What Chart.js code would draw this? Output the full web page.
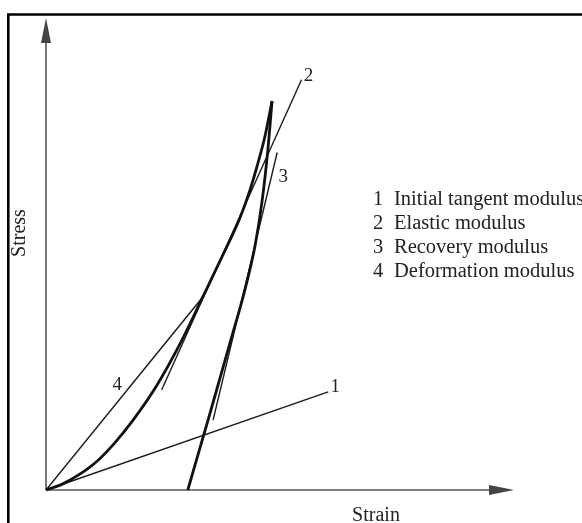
<!DOCTYPE html>
<html>
<head>
<meta charset="utf-8">
<script src="https://cdn.jsdelivr.net/npm/chart.js@4.4.1/dist/chart.umd.min.js"></script>
<style>
  html, body { margin: 0; padding: 0; background: #fff; overflow: hidden; }
  #chart { display: block; }
</style>
</head>
<body>
<canvas id="chart" width="582" height="523"></canvas>
<script>
// loading branch of the stress-strain curve (strain, stress)
let loadStrain = [0, 0.36, 0.73, 1.09, 1.47, 1.86, 2.37, 2.86, 3.35, 3.76, 4.15, 4.36, 4.53, 4.68, 4.83];
let loadStress = [0, 0.13, 0.34, 0.61, 1.0, 1.48, 2.22, 3.09, 4.09, 4.94, 5.78, 6.36, 6.93, 7.5, 8.24];

// unloading branch, from residual strain up to the peak
let unloadStrain = [3.03, 3.5, 3.95, 4.25, 4.47, 4.62, 4.74, 4.83];
let unloadStress = [0, 1.61, 3.18, 4.24, 5.19, 6.14, 7.2, 8.24];

// modulus lines: start and end points
let line1Strain = [0, 6.03];
let line1Stress = [0, 2.08];
let line2Strain = [2.47, 5.46];
let line2Stress = [2.12, 8.69];
let line3Strain = [3.57, 4.94];
let line3Stress = [1.48, 7.15];
let line4Strain = [0, 3.35];
let line4Stress = [0, 4.09];

let lineNames = ["1", "2", "3", "4"];
let legendItems = [
  "Initial tangent modulus",
  "Elastic modulus",
  "Recovery modulus",
  "Deformation modulus",
];

let xTitle = "Strain";
let yTitle = "Stress";

function toPoints(xs, ys) {
  return xs.map((x, i) => ({ x: x, y: ys[i] }));
}

let serif = "'Liberation Serif', 'Times New Roman', serif";

function thinLine(xs, ys) {
  return {
    data: toPoints(xs, ys),
    showLine: true,
    borderColor: "#1a1a1a",
    borderWidth: 1.4,
    pointRadius: 0,
    tension: 0,
    clip: false,
  };
}

function thickCurve(xs, ys) {
  return {
    data: toPoints(xs, ys),
    showLine: true,
    borderColor: "#111",
    borderWidth: 2.8,
    pointRadius: 0,
    cubicInterpolationMode: "monotone",
    clip: false,
  };
}

// frame, axes with arrowheads, titles and the numbered notes
let decor = {
  id: "decor",
  beforeDatasetsDraw(chart) {
    let ctx = chart.ctx;
    let xs = chart.scales.x;
    let ys = chart.scales.y;
    let x0 = xs.getPixelForValue(0);
    let y0 = ys.getPixelForValue(0);
    let xEnd = xs.getPixelForValue(10);
    let yEnd = ys.getPixelForValue(10);

    ctx.save();
    // outer frame
    ctx.strokeStyle = "#000";
    ctx.lineWidth = 2.6;
    ctx.beginPath();
    ctx.moveTo(8.3, chart.height + 5);
    ctx.lineTo(8.3, 14.5);
    ctx.lineTo(chart.width + 5, 14.5);
    ctx.stroke();

    // axes
    ctx.strokeStyle = "#555";
    ctx.fillStyle = "#444";
    ctx.lineWidth = 1.6;
    ctx.beginPath();
    ctx.moveTo(x0, y0);
    ctx.lineTo(x0, yEnd + 20);
    ctx.moveTo(x0, y0);
    ctx.lineTo(xEnd - 20, y0);
    ctx.stroke();

    ctx.beginPath();
    ctx.moveTo(x0, yEnd);
    ctx.lineTo(x0 - 5, yEnd + 25);
    ctx.lineTo(x0 + 5, yEnd + 25);
    ctx.closePath();
    ctx.fill();

    ctx.beginPath();
    ctx.moveTo(xEnd, y0);
    ctx.lineTo(xEnd - 25, y0 - 5);
    ctx.lineTo(xEnd - 25, y0 + 5);
    ctx.closePath();
    ctx.fill();

    // axis titles
    ctx.fillStyle = "#222";
    ctx.font = "20px " + serif;
    ctx.textAlign = "center";
    ctx.textBaseline = "alphabetic";
    ctx.fillText(xTitle, 376, 521);
    ctx.save();
    ctx.translate(25, 233);
    ctx.rotate(-Math.PI / 2);
    ctx.fillText(yTitle, 0, 0);
    ctx.restore();

    // legend text on the right
    ctx.font = "20.5px " + serif;
    ctx.textAlign = "left";
    for (let i = 0; i < legendItems.length; i++) {
      let base = 205 + i * 24;
      ctx.fillText(lineNames[i], 373, base);
      ctx.fillText(legendItems[i], 394, base);
    }
    ctx.restore();
  },
  afterDatasetsDraw(chart) {
    let ctx = chart.ctx;
    let xs = chart.scales.x;
    let ys = chart.scales.y;
    let px = (v) => xs.getPixelForValue(v);
    let py = (v) => ys.getPixelForValue(v);

    ctx.save();
    ctx.fillStyle = "#222";
    ctx.font = "19px " + serif;
    ctx.textAlign = "center";
    ctx.textBaseline = "middle";
    // numbers placed next to the end of each modulus line
    ctx.fillText(lineNames[0], px(line1Strain[1]) + 7, py(line1Stress[1]) - 5);
    ctx.fillText(lineNames[1], px(line2Strain[1]) + 7, py(line2Stress[1]) - 4);
    ctx.fillText(lineNames[2], px(line3Strain[1]) + 6, py(line3Stress[1]) + 24);
    let mid = 0.55;
    let lx = px(line4Strain[0] + (line4Strain[1] - line4Strain[0]) * mid);
    let ly = py(line4Stress[0] + (line4Stress[1] - line4Stress[0]) * mid);
    ctx.fillText(lineNames[3], lx - 15, ly + 1);
    ctx.restore();
  },
};

new Chart(document.getElementById("chart"), {
  type: "scatter",
  data: {
    datasets: [
      thickCurve(loadStrain, loadStress),
      thickCurve(unloadStrain, unloadStress),
      thinLine(line1Strain, line1Stress),
      thinLine(line2Strain, line2Stress),
      thinLine(line3Strain, line3Stress),
      thinLine(line4Strain, line4Stress),
    ],
  },
  options: {
    responsive: false,
    animation: false,
    devicePixelRatio: 1,
    layout: {
      padding: { left: 46, right: 68, top: 18, bottom: 33 },
    },
    scales: {
      x: { type: "linear", min: 0, max: 10, display: false },
      y: { type: "linear", min: 0, max: 10, display: false },
    },
    plugins: {
      legend: { display: false },
      tooltip: { enabled: false },
    },
  },
  plugins: [decor],
});
</script>
</body>
</html>
